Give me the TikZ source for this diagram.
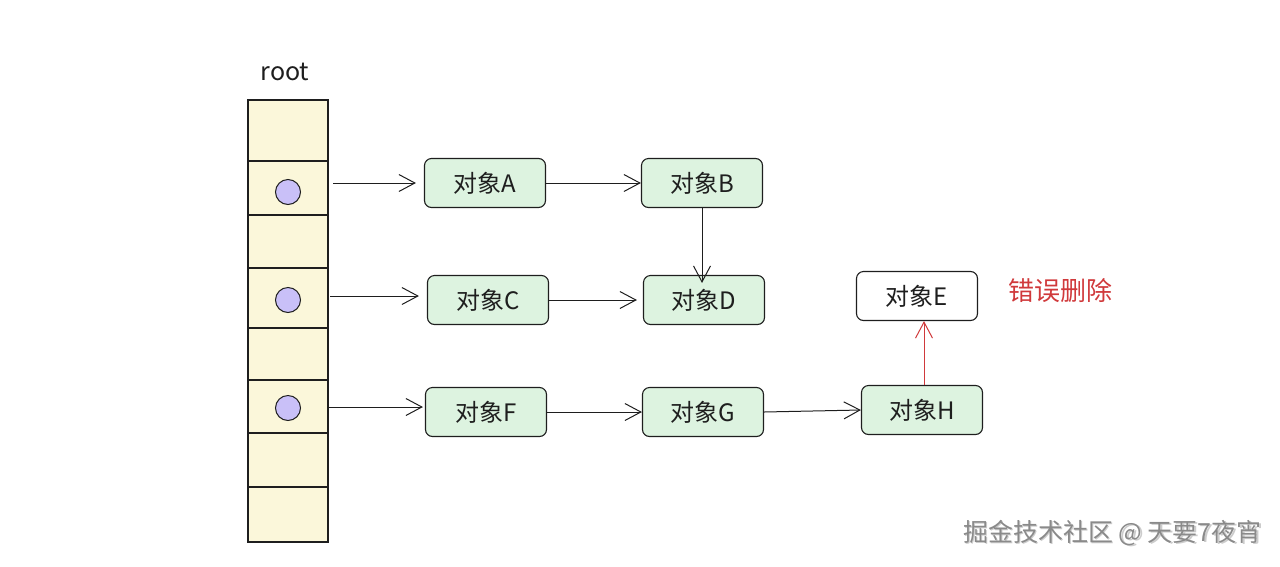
\documentclass[tikz,border=0pt]{standalone}
\usepackage{fontspec}
\setmainfont{Noto Sans CJK SC}
\newfontfamily\cjk{Noto Sans CJK SC}
\usetikzlibrary{arrows.meta,patterns}
\definecolor{colfill}{HTML}{FBF7DA}
\definecolor{boxfill}{HTML}{DDF3E0}
\definecolor{dotfill}{HTML}{C9C0F8}
\definecolor{inkcol}{HTML}{1E1E1E}
\definecolor{redink}{HTML}{D0393B}
\definecolor{wmgray}{HTML}{8A8A8A}
\tikzset{
  obj/.style={draw=inkcol, line width=1.1pt, rounded corners=7pt, fill=boxfill,
    minimum width=121pt, minimum height=49pt, font=\cjk\fontsize{24}{28}\selectfont, text=inkcol, inner sep=0pt},
  objw/.style={obj, fill=white},
  cell/.style={draw=inkcol, line width=1.1pt, fill=colfill},
  dot/.style={draw=inkcol, line width=1pt, fill=dotfill, circle, minimum size=25pt, inner sep=0pt},
  link/.style={draw=inkcol, line width=1pt, -{Straight Barb[length=16pt,width=17pt,line width=1pt]}},
  redlink/.style={draw=redink, line width=1pt, -{Straight Barb[length=16pt,width=17pt,line width=1pt]}},
}
\begin{document}
\begin{tikzpicture}[x=1pt,y=-1pt]
\useasboundingbox (0,0) rectangle (1280,566);
% column
\foreach \a/\b in {100/161,161/215,215/268,268/328,328/380,380/433,433/487,487/542}
  \draw[cell] (248,\a) rectangle (328,\b);
\node[font=\cjk\fontsize{25}{30}\selectfont, text=inkcol] (root) at (285,72) {root};
\node[dot] (d1) at (288,192) {};
\node[dot] (d2) at (288,300) {};
\node[dot] (d3) at (288,408) {};
% objects
\node[obj] (A) at (485,183) {对象A};
\node[obj] (B) at (702,183) {对象B};
\node[obj] (C) at (488,300) {对象C};
\node[obj] (D) at (704,300) {对象D};
\node[objw] (E) at (917,296) {对象E};
\node[obj] (F) at (486,412) {对象F};
\node[obj] (G) at (703,412) {对象G};
\node[obj] (H) at (922,410) {对象H};
\coordinate (s1) at (333,183);
\coordinate (s2) at (330,296);
\coordinate (s3) at (328,407);
% connectors
\draw[link] (s1) -- ([xshift=-8pt]s1 -| A.west);
\draw[link] (A.east) -- (B.west);
\draw[link] (B.south) -- ([yshift=-8pt]B.south |- D.north);
\draw[link] (s2) -- ([xshift=-8pt]s2 -| C.west);
\draw[link] (C.east) -- ([xshift=-6pt]D.west);
\draw[link] (s3) -- ([xshift=-2pt]s3 -| F.west);
\draw[link] (F.east) -- (G.west);
\draw[link] (G.east) -- (H.west);
\draw[redlink] ([xshift=2pt]H.north) -- ([xshift=2pt]H.north |- E.south);
\node[font=\cjk\fontsize{26}{30}\selectfont, text=redink] (note) at (1060,291) {错误删除};
% watermark
\node[font=\cjk\fontsize{25}{30}\selectfont, text=black!20] at (1114,534.5) {掘金技术社区 @ 天要7夜宵};
\node[font=\cjk\fontsize{25}{30}\selectfont, text=wmgray] (wm) at (1112.5,533) {掘金技术社区 @ 天要7夜宵};
\end{tikzpicture}
\end{document}
